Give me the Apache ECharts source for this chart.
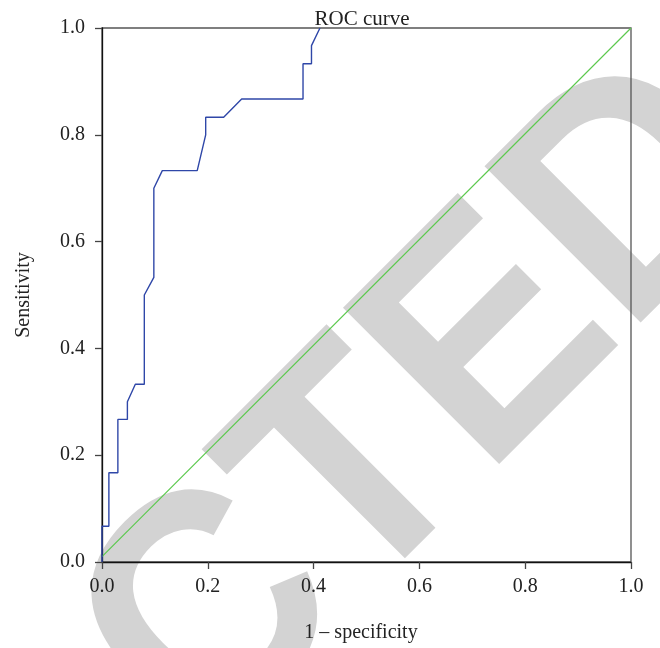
<!DOCTYPE html>
<html>
<head>
<meta charset="utf-8">
<script src="https://cdn.jsdelivr.net/npm/echarts@6/dist/echarts.min.js"></script>
<style>html,body{margin:0;padding:0;background:#fff}#c{width:660px;height:648px}</style>
</head>
<body>
<div id="c"></div>
<script>
// ROC curve points (1 - specificity, sensitivity)
const fpr = [0, 0, 0.013, 0.013, 0.03, 0.03, 0.048, 0.048, 0.063, 0.08, 0.08, 0.098, 0.098, 0.114, 0.18, 0.196, 0.196, 0.23, 0.264, 0.38, 0.38, 0.396, 0.396, 0.412];
const tpr = [0, 0.067, 0.067, 0.167, 0.167, 0.267, 0.267, 0.3, 0.333, 0.333, 0.5, 0.533, 0.7, 0.733, 0.733, 0.8, 0.833, 0.833, 0.867, 0.867, 0.933, 0.933, 0.967, 1.0];
// reference diagonal
const diagX = [0, 1];
const diagY = [0.01, 1];
const tickValues = [0, 0.2, 0.4, 0.6, 0.8, 1.0];

const titleText = 'ROC curve';
const xName = '1 – specificity';
const yName = 'Sensitivity';
const watermark = 'RETRACTED';

const serif = '"Liberation Serif", "DejaVu Serif", serif';
const chart = echarts.init(document.getElementById('c'), null, {renderer: 'canvas'});

const axisCommon = {
  type: 'value', min: 0, max: 1, interval: 0.2,
  axisLine: {show: true, onZero: false, lineStyle: {color: '#111', width: 1.3}},
  axisTick: {show: true, length: 7, lineStyle: {color: '#444', width: 1.3}},
  splitLine: {show: false},
  axisLabel: {color: '#222', fontFamily: serif, fontSize: 20, formatter: v => v.toFixed(1)},
  nameLocation: 'middle',
  nameTextStyle: {color: '#222', fontFamily: serif, fontSize: 20}
};

chart.setOption({
  backgroundColor: '#fff',
  animation: false,
  title: {
    text: titleText, left: 357, top: 4, textAlign: 'center',
    textStyle: {fontFamily: serif, fontSize: 21, fontWeight: 'normal', color: '#222'}
  },
  graphic: [{
    type: 'text', x: 63, y: 775, rotation: Math.PI / 4, scaleY: 1.07, z: -100,
    silent: true,
    style: {text: watermark, font: 'bold 300px "Liberation Sans"', fill: '#d3d3d3', align: 'center', verticalAlign: 'middle'}
  }],
  grid: {left: 102, right: 29, top: 28, bottom: 86, show: true, borderColor: '#555', borderWidth: 1.3, backgroundColor: 'transparent'},
  xAxis: Object.assign({}, axisCommon, {
    name: xName, nameGap: 61,
    nameTextStyle: Object.assign({}, axisCommon.nameTextStyle, {padding: [0, 11, 0, 0]}),
    axisLabel: Object.assign({}, axisCommon.axisLabel, {margin: 15})
  }),
  yAxis: Object.assign({}, axisCommon, {name: yName, nameGap: 68, nameRotate: 90, axisLabel: Object.assign({}, axisCommon.axisLabel, {margin: 17})}),
  series: [
    {
      type: 'line', data: diagX.map((x, i) => [x, diagY[i]]), symbol: 'none',
      lineStyle: {color: '#5cc94e', width: 1.2}, z: 3
    },
    {
      type: 'line', data: fpr.map((x, i) => [x, tpr[i]]), symbol: 'none',
      lineStyle: {color: '#2f47a8', width: 1.4}, z: 4
    }
  ]
});
</script>
</body>
</html>
